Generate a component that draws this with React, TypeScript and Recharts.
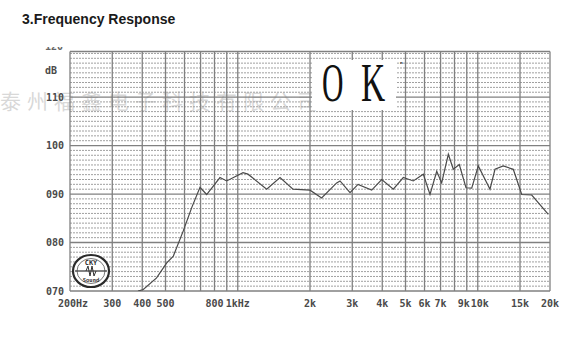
import React from "react";
import { LineChart, Line, XAxis, YAxis, CartesianGrid } from "recharts";

const freqHz = [384, 404, 459, 506, 539, 593, 643, 696, 742, 843, 899, 1052, 1103, 1320, 1500, 1699, 2000, 2236, 2583, 2668, 2936, 3170, 3614, 3980, 4448, 4896, 5387, 5930, 6325, 6747, 7074, 7540, 7910, 8376, 8934, 9438, 10052, 11247, 11800, 12770, 14062, 15248, 16786, 19678];
const splDb = [70.0, 70.3, 72.7, 75.8, 77.2, 82.4, 87.2, 91.4, 89.9, 93.4, 92.7, 94.4, 94.1, 91.0, 93.4, 91.0, 90.8, 89.2, 92.3, 92.7, 90.3, 92.0, 90.8, 93.0, 91.0, 93.4, 92.7, 94.1, 89.9, 94.7, 92.3, 98.2, 95.1, 96.1, 91.3, 91.2, 95.8, 91.0, 95.1, 95.8, 95.1, 89.9, 89.8, 85.8];

const xTickValues = [200, 300, 400, 500, 600, 700, 800, 900, 1000, 2000, 3000, 4000, 5000, 6000, 7000, 8000, 9000, 10000, 15000, 20000];
const xTickLabels = ["200Hz", "300", "400", "500", "", "", "800", "", "1kHz", "2k", "3k", "4k", "5k", "6k", "7k", "", "9k", "10k", "15k", "20k"];
const yTickValues = [70, 80, 90, 100, 110];
const yTickLabels = ["070", "080", "090", "100", "110"];
const yTop = 119.4;
const minorDb: number[] = [];
for (let v = 71; v < 120; v++) if (v % 10 !== 0) minorDb.push(v);

const data = freqHz.map((f, i) => ({ f, db: splDb[i] }));

const MONO = '"DejaVu Sans Mono", monospace';

const XTick = (props: any) => {
  const { x, y, payload } = props;
  const label = xTickLabels[xTickValues.indexOf(payload.value)] ?? "";
  if (!label) return null;
  let nudge = 0;
  if (label === "9k") nudge = -3;
  if (label === "10k") nudge = 2;
  if (label === "200Hz") nudge = 3;
  return (
    <text x={x + nudge} y={y} dy="0.71em" textAnchor="middle" fontFamily={MONO} fontSize={10} fontWeight="bold" fill="#4a4a4a">
      {label}
    </text>
  );
};

export default function App() {
  return (
    <div style={{ position: "absolute", left: 0, top: 0, width: 588, height: 347, background: "#fff", overflow: "hidden" }}>
      {/* watermark (behind the chart) */}
      <div style={{ position: "absolute", left: 0, top: 87, fontFamily: '"Noto Sans CJK SC", sans-serif', fontSize: 21, letterSpacing: 6, color: "rgba(190,190,190,0.6)", whiteSpace: "nowrap", lineHeight: "26px" }}>
        泰州福鑫电子科技有限公司
      </div>
      <div style={{ position: "absolute", left: 0, top: 0 }}>
        <LineChart width={588} height={347} data={data} margin={{ top: 51.5, right: 38, bottom: 26, left: 0 }}>
          <CartesianGrid vertical={false} horizontalValues={minorDb} stroke="#a0a0a0" strokeDasharray="2 1" />
          <CartesianGrid horizontalValues={[...yTickValues, yTop]} verticalValues={xTickValues} stroke="#808080" strokeWidth={1.3} />
          <XAxis
            dataKey="f"
            type="number"
            scale="log"
            domain={[200, 20000]}
            ticks={xTickValues}
            interval={0}
            allowDataOverflow
            tickLine={false}
            axisLine={false}
            tickMargin={3}
            height={30}
            tick={<XTick />}
          />
          <YAxis
            type="number"
            domain={[70, yTop]}
            ticks={yTickValues}
            allowDataOverflow
            interval={0}
            tickFormatter={(v: number) => yTickLabels[yTickValues.indexOf(v)] ?? ""}
            tickLine={false}
            axisLine={false}
            tickMargin={0}
            width={70}
            tick={{ fontFamily: MONO, fontSize: 10, fontWeight: "bold", fill: "#4a4a4a" }}
          />
          <Line dataKey="db" type="linear" stroke="#4a4a4a" strokeWidth={1.2} dot={false} isAnimationActive={false} />
        </LineChart>
      </div>

      {/* title */}
      <div style={{ position: "absolute", left: 22, top: 11, fontFamily: '"Liberation Sans", Arial, sans-serif', fontWeight: "bold", fontSize: 14, color: "#1a1a1a", whiteSpace: "nowrap" }}>
        3.Frequency Response
      </div>

      {/* partially hidden 120 label */}
      <div style={{ position: "absolute", left: 45, top: 47, width: 22, height: 5, overflow: "hidden" }}>
        <div style={{ marginTop: -6, fontFamily: MONO, fontWeight: "bold", fontSize: 10, lineHeight: "12px", color: "#666" }}>120</div>
      </div>

      {/* dB label */}
      <div style={{ position: "absolute", left: 45, top: 65, fontFamily: MONO, fontWeight: "bold", fontSize: 10, color: "#4a4a4a", lineHeight: "12px" }}>dB</div>

      {/* OK stamp */}
      <div style={{ position: "absolute", left: 312, top: 60, width: 84, height: 50, background: "#fff" }} />
      <div style={{ position: "absolute", left: 322, top: 53, fontFamily: '"Liberation Serif", serif', fontSize: 54, lineHeight: "60px", color: "#111", transform: "scaleX(0.55)", transformOrigin: "left top" }}>O</div>
      <div style={{ position: "absolute", left: 361, top: 53, fontFamily: '"Liberation Serif", serif', fontSize: 54, lineHeight: "60px", color: "#111", transform: "scaleX(0.62)", transformOrigin: "left top" }}>K</div>
      <div style={{ position: "absolute", left: 399, top: 60, fontFamily: MONO, fontWeight: "bold", fontSize: 8, color: "#444", lineHeight: "10px" }}>ⁿ</div>

      {/* logo */}
      <svg style={{ position: "absolute", left: 0, top: 0 }} width={588} height={347}>
        <ellipse cx={91} cy={271} rx={18} ry={16} fill="#fff" stroke="#2a2a2a" strokeWidth={2.2} />
        <ellipse cx={91} cy={271} rx={14} ry={12.5} fill="none" stroke="#555" strokeWidth={0.8} />
        <text x={91} y={265} textAnchor="middle" fontFamily={MONO} fontWeight="bold" fontSize={7} fill="#333">CKY</text>
        <line x1={75} y1={271} x2={107} y2={271} stroke="#333" strokeWidth={1.2} />
        <path d="M86 271 L88 266 L90 276 L92 266 L94 276 L96 271" fill="none" stroke="#333" strokeWidth={1} />
        <text x={91} y={282} textAnchor="middle" fontFamily={MONO} fontWeight="bold" fontSize={5.5} fill="#333">Sound</text>
      </svg>
    </div>
  );
}
